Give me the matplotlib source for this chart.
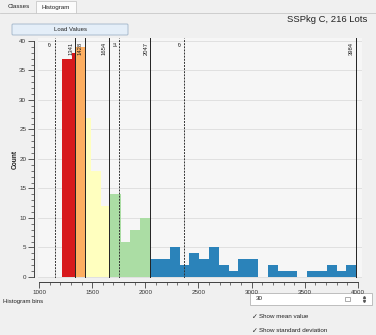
import matplotlib.pyplot as plt
from matplotlib.patches import Rectangle, FancyBboxPatch
import numpy as np

plt.rcParams['font.family'] = ['Liberation Sans', 'DejaVu Sans']

# histogram: 30 bins between min and max value
value_min = 1214
value_max = 3984
counts = [37, 39, 27, 18, 12, 14, 6, 8, 10,
          3, 3, 5, 2, 4, 3, 5, 2, 1, 3, 3,
          0, 2, 1, 1, 0, 1, 1, 2, 1, 2]
# bin pieces cut by a class break, height as drawn: (bin, class) -> count
piece_counts = {(1, 0): 38, (2, 1): 39, (4, 3): 14}

class_breaks = [1341, 1428, 1654, 2047, 3984]
class_labels = ['1341', '1428', '1654', '2047', '3984']
class_colors = ['#d7191c', '#fdae61', '#ffffbf', '#abdda4', '#2b83ba']

mean_value = 1757
std_value = 610
title = 'SSPkg C, 216 Lots'
n_bins = 30

W, H = 376, 335


def box(l, t, r, b):
    '''pixel box -> figure fraction rect'''
    return [l / W, 1 - b / H, (r - l) / W, (b - t) / H]


fig = plt.figure(figsize=(W / 100, H / 100), dpi=100, facecolor='#f0f0f0')

# widget chrome, drawn in pixel coords
ui = fig.add_axes([0, 0, 1, 1])
ui.set_xlim(0, W)
ui.set_ylim(H, 0)
ui.axis('off')

ui.plot([0, 36], [13, 13], color='#c8c8c8', lw=0.6)
ui.plot([76, W], [13, 13], color='#c8c8c8', lw=0.6)
ui.add_patch(Rectangle((36, 0.5), 40, 12.5, fc='#fbfbfb', ec='#c8c8c8', lw=0.6))
ui.text(8, 7, 'Classes', fontsize=4.5, va='center', color='#222222')
ui.text(41, 7, 'Histogram', fontsize=4.5, va='center', color='#222222')

ui.text(367, 19, title, fontsize=6.8, ha='right', va='center', color='#222222')

ui.add_patch(FancyBboxPatch((12, 24), 116, 11, boxstyle='round,pad=0,rounding_size=1',
                            fc='#e4eef8', ec='#9fb3c8', lw=0.6))
ui.text(70, 29.5, 'Load Values', fontsize=4.3, ha='center', va='center', color='#222222')

ui.text(3, 302, 'Histogram bins', fontsize=4.3, va='center', color='#222222')
ui.add_patch(Rectangle((250, 293), 122, 12, fc='white', ec='#b5b5b5', lw=0.6))
ui.text(256, 299, str(n_bins), fontsize=4.5, va='center', color='#222222')
ui.add_patch(Rectangle((345, 297), 5, 4, fc='none', ec='#8a8a8a', lw=0.5))
ui.plot([364], [297], marker='^', ms=1.4, color='#555555')
ui.plot([364], [301], marker='v', ms=1.4, color='#555555')

for y, txt in [(317, 'Show mean value'), (331, 'Show standard deviation')]:
    ui.text(252, y, '\u2713', fontsize=5, va='center', color='#222222',
            family=['DejaVu Sans'])
    ui.text(259, y, txt, fontsize=4.5, va='center', color='#222222')

# histogram plot
ax = fig.add_axes(box(38, 38, 362, 278))
ax.set_facecolor('#f6f6f6')
ax.set_xlim(990.6, 4037.7)
ax.set_ylim(-0.17, 40.5)

edges = np.linspace(value_min, value_max, len(counts) + 1)
lows = [value_min] + class_breaks[:-1]
for b, c in enumerate(counts):
    lo, hi = edges[b], edges[b + 1]
    for k, up in enumerate(class_breaks):
        a, z = max(lo, lows[k]), min(hi, up)
        if z > a:
            h = piece_counts.get((b, k), c)
            ax.bar(a, h, z - a, align='edge', color=class_colors[k],
                   linewidth=0, zorder=2)

for v, lab in zip(class_breaks, class_labels):
    ax.axvline(v, color='#222222', lw=0.7, zorder=3)
    ax.annotate(lab, xy=(v, 1), xycoords=('data', 'axes fraction'),
                xytext=(-1.5, -3), textcoords='offset points', rotation=90,
                ha='right', va='top', fontsize=4.2, color='#222222')

for v, lab in [(mean_value - std_value, '\u03c3'), (mean_value, '\u03bc'),
               (mean_value + std_value, '\u03c3')]:
    ax.axvline(v, color='#333333', lw=0.7, ls=(0, (2, 1.2)), zorder=3)
    ax.annotate(lab, xy=(v, 1), xycoords=('data', 'axes fraction'),
                xytext=(-1.5, -3), textcoords='offset points', rotation=90,
                ha='right', va='top', fontsize=4.5, color='#222222',
                family=['DejaVu Sans'])

ax.yaxis.grid(True, color='#dcdcdc', lw=0.6)
ax.set_axisbelow(True)
for s in ['top', 'right']:
    ax.spines[s].set_visible(False)
for s in ['left', 'bottom']:
    ax.spines[s].set_position(('outward', 3))
    ax.spines[s].set_color('#404040')
    ax.spines[s].set_linewidth(0.7)
ax.spines['left'].set_bounds(0, 40)
ax.spines['bottom'].set_bounds(1000, 4000)

ax.set_xticks(np.arange(1000, 4001, 500))
ax.set_xticks(np.arange(1000, 4001, 100), minor=True)
ax.set_yticks(np.arange(0, 41, 5))
ax.set_yticks(np.arange(0, 41, 1), minor=True)
ax.tick_params(which='major', direction='out', length=4, width=0.6,
               colors='#404040', labelsize=4.5, pad=1.5)
ax.tick_params(which='minor', direction='out', length=2, width=0.5, colors='#404040')
for t in ax.get_xticklabels() + ax.get_yticklabels():
    t.set_color('#333333')

fig.text(15 / W, 1 - 159 / H, 'Count', rotation=90, fontsize=4.8,
         fontweight='bold', ha='center', va='center', color='#222222')

fig.savefig('out.png', dpi=100, facecolor=fig.get_facecolor())
